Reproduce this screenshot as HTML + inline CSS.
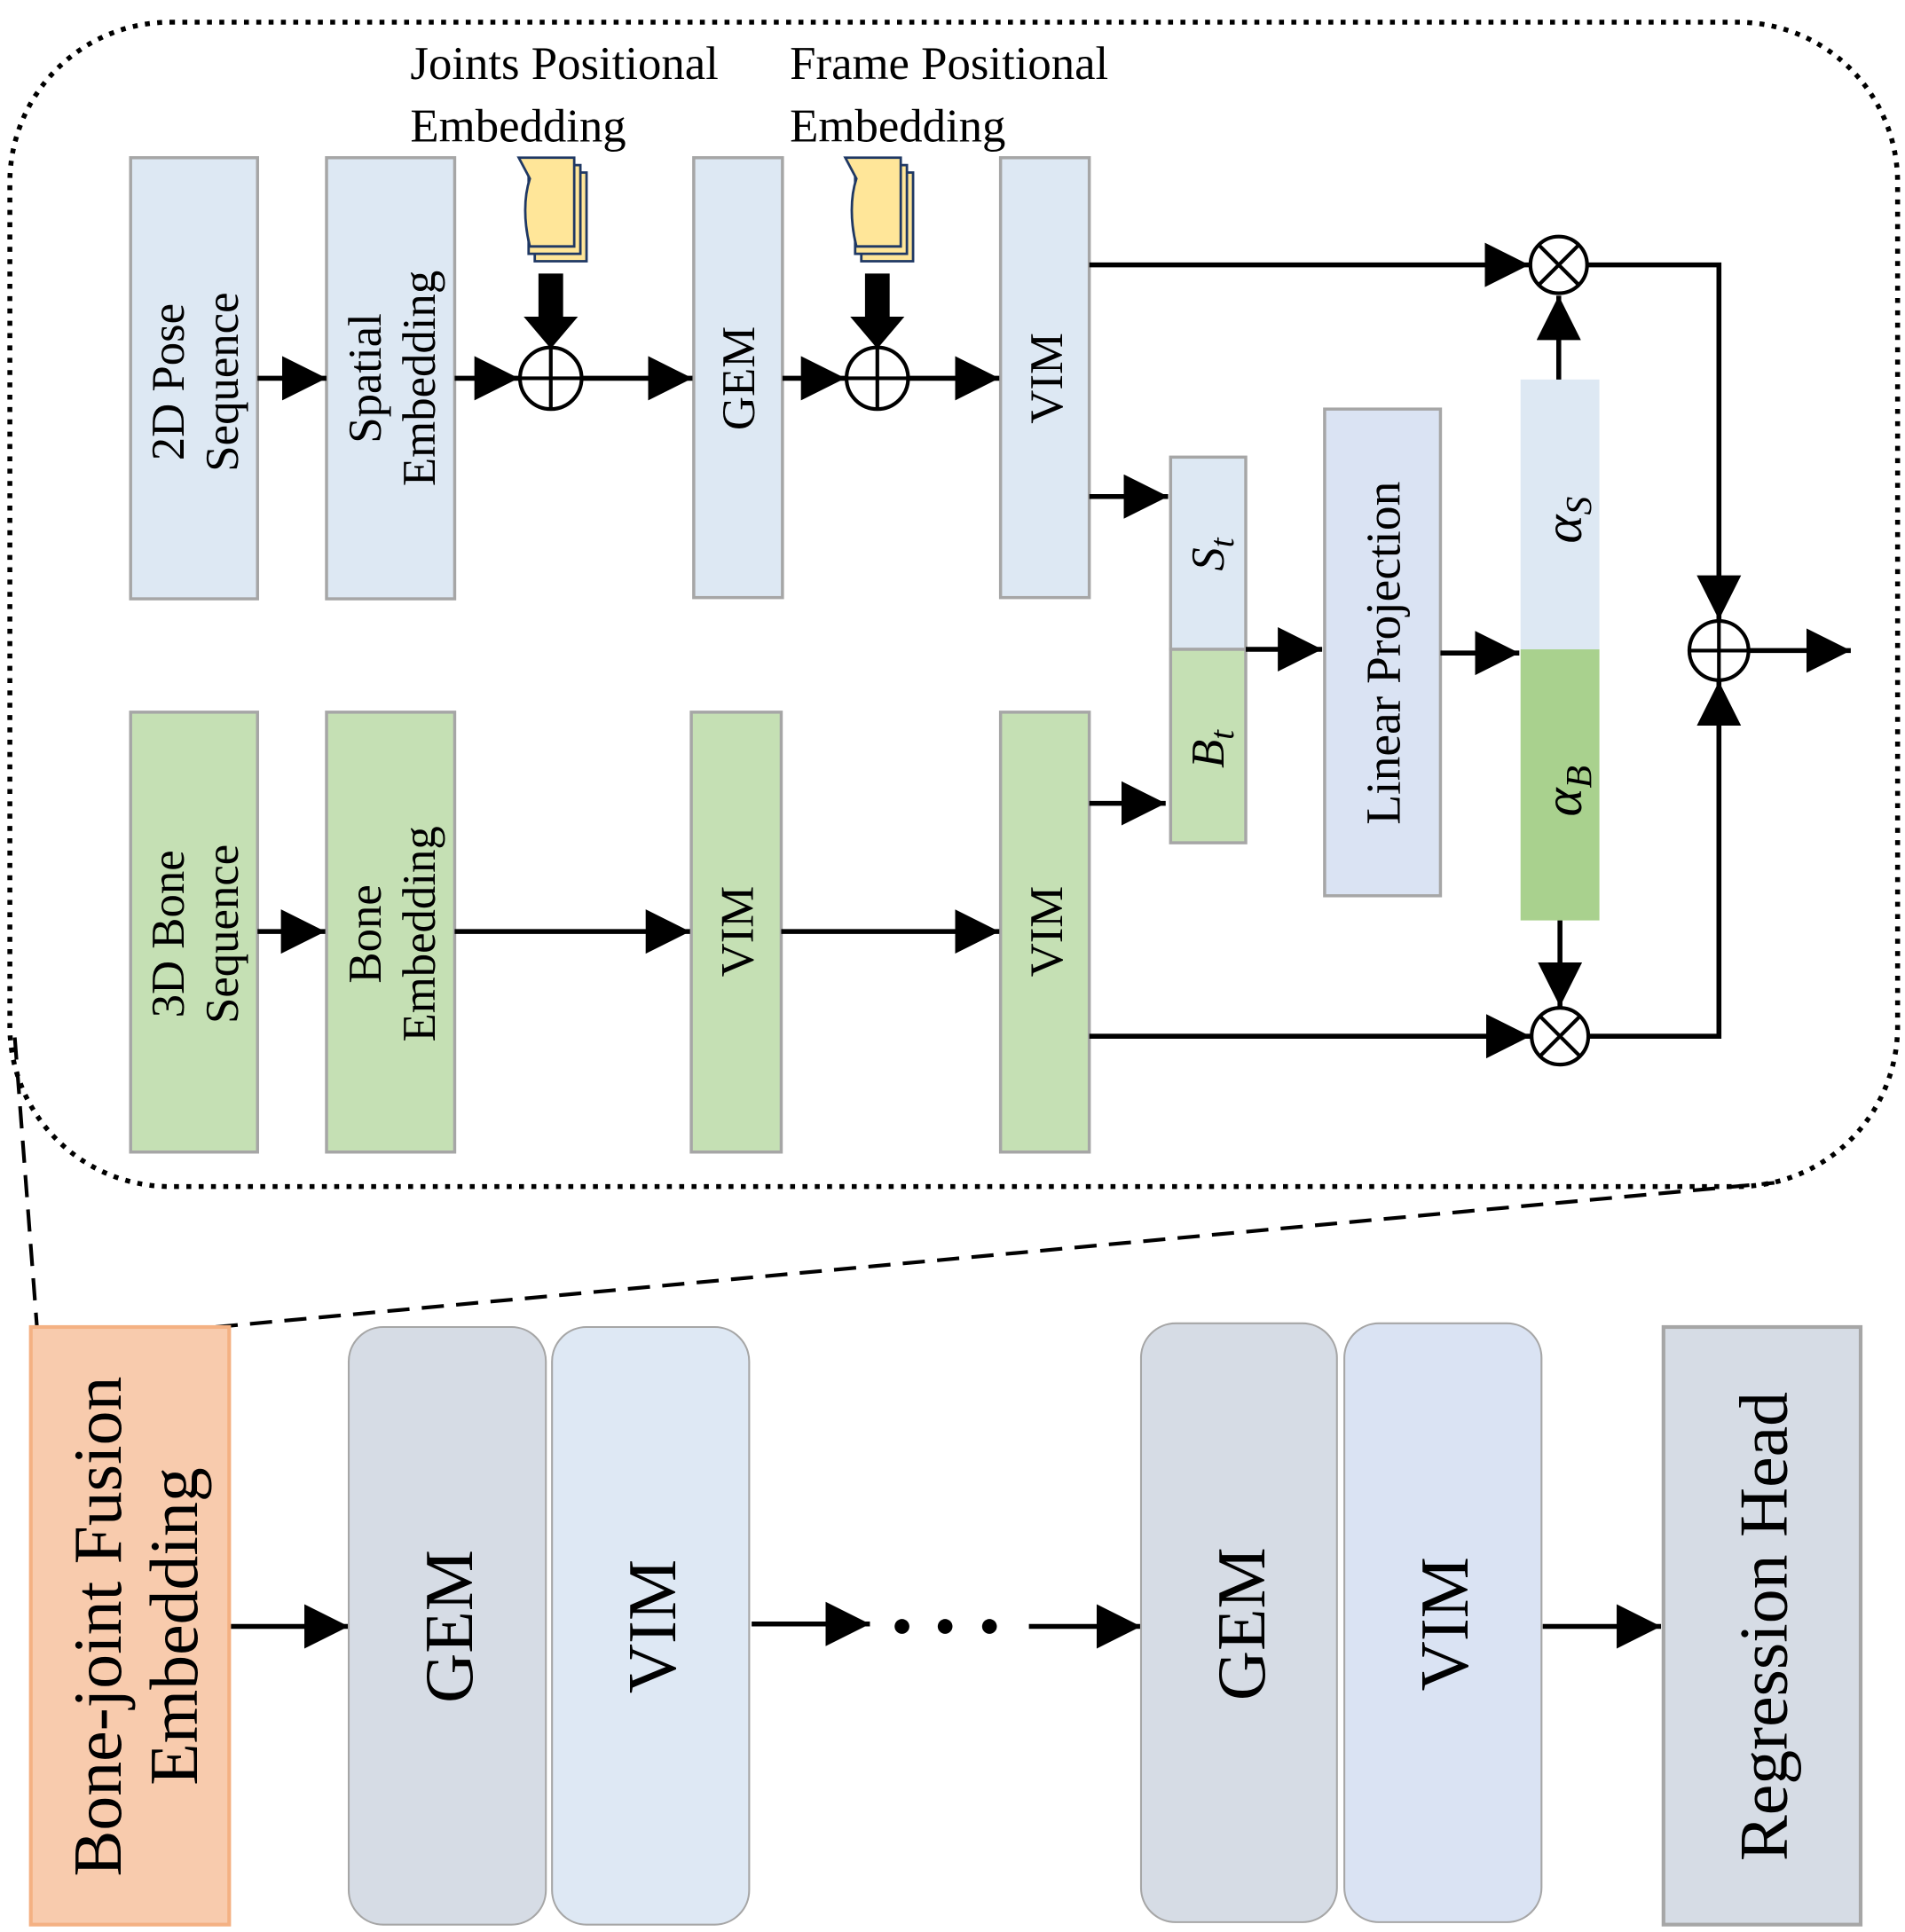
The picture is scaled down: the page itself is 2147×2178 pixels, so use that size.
<!DOCTYPE html>
<html><head><meta charset="utf-8"><style>
html,body{margin:0;padding:0;background:#fff}
svg{display:block}
text{font-family:"Liberation Serif",serif;fill:#000}
</style></head><body>
<svg width="2147" height="2178" viewBox="0 0 1546 1568" preserveAspectRatio="none" xmlns="http://www.w3.org/2000/svg">
<defs>
<marker id="a" markerUnits="userSpaceOnUse" markerWidth="40" markerHeight="40" refX="36" refY="18" orient="auto">
<path d="M0,0 L36,18 L0,36 Z" fill="#000"/></marker>
</defs>
<rect x="8" y="18" width="1532" height="945" rx="130" fill="none" stroke="#000" stroke-width="4" stroke-dasharray="4,6"/>

<g stroke="#a6a6a6" stroke-width="2.5">
<rect x="106" y="128" width="103" height="358" fill="#dde8f3"/>
<rect x="265" y="128" width="104" height="358" fill="#dde8f3"/>
<rect x="563" y="128" width="72" height="357" fill="#dde8f3"/>
<rect x="812" y="128" width="72" height="357" fill="#dde8f3"/>
<rect x="106" y="578" width="103" height="357" fill="#c5e0b4"/>
<rect x="265" y="578" width="104" height="357" fill="#c5e0b4"/>
<rect x="561" y="578" width="73" height="357" fill="#c5e0b4"/>
<rect x="812" y="578" width="72" height="357" fill="#c5e0b4"/>
<rect x="950" y="371" width="61" height="156" fill="#dde8f3"/>
<rect x="950" y="527" width="61" height="157" fill="#c5e0b4"/>
<rect x="1075" y="332" width="94" height="395" fill="#dae3f3"/>
</g>
<rect x="1234" y="308" width="64" height="219" fill="#dde8f3"/>
<rect x="1234" y="527" width="64" height="220" fill="#a9d18e"/>

<g stroke="#1f3864" stroke-width="2" fill="#ffe699">
<path d="M434,140 h42 v72 h-42 z"/>
<path d="M429,134 h42 v72 h-42 z"/>
<path d="M421,128 h45 v72 h-36 c-5,-20 -5,-40 0,-55 z"/>
<path d="M699,140 h42 v72 h-42 z"/>
<path d="M694,134 h42 v72 h-42 z"/>
<path d="M686,128 h45 v72 h-36 c-5,-20 -5,-40 0,-55 z"/>
</g>
<path d="M437,222 h20 v35 h12 l-22,26 l-22,-26 h12 z" fill="#000"/>
<path d="M702,222 h20 v35 h12 l-22,26 l-22,-26 h12 z" fill="#000"/>

<g stroke="#000" stroke-width="3" fill="#fff">
<circle cx="447" cy="307" r="25"/><path d="M422,307h50M447,282v50"/>
<circle cx="712" cy="307" r="25"/><path d="M687,307h50M712,282v50"/>
<circle cx="1395" cy="528" r="24"/><path d="M1371,528h48M1395,504v48"/>
<circle cx="1265" cy="215" r="23"/><path d="M1249,199l32,32M1281,199l-32,32"/>
<circle cx="1266" cy="841" r="23"/><path d="M1250,825l32,32M1282,825l-32,32"/>
</g>

<g stroke="#000" stroke-width="4" fill="none" marker-end="url(#a)">
<path d="M209,307H265"/>
<path d="M369,307H421"/>
<path d="M472,307H562"/>
<path d="M635,307H686"/>
<path d="M737,307H811"/>
<path d="M884,215H1241"/>
<path d="M884,403H948"/>
<path d="M1011,527H1073"/>
<path d="M1169,530H1233"/>
<path d="M1265,308V240"/>
<path d="M1266,747V817"/>
<path d="M1288,215H1395V503"/>
<path d="M1289,841H1395V553"/>
<path d="M1420,528H1502"/>
<path d="M209,756H264"/>
<path d="M369,756H560"/>
<path d="M634,756H811"/>
<path d="M884,652H946"/>
<path d="M884,841H1242"/>
<path d="M186,1320H283"/>
<path d="M610,1318H706"/>
<path d="M835,1320H926"/>
<path d="M1252,1320H1348"/>
</g>
<g fill="#000"><circle cx="732" cy="1320" r="6"/><circle cx="767" cy="1320" r="6"/><circle cx="803" cy="1320" r="6"/></g>

<g stroke="#000" stroke-width="3" stroke-dasharray="18,10" fill="none">
<path d="M12,842L30,1077"/><path d="M175,1077L1440,960"/>
</g>

<rect x="25" y="1077" width="161" height="485" fill="#f8cbad" stroke="#f4b183" stroke-width="3"/>
<rect x="283" y="1077" width="160" height="485" rx="28" fill="#d6dce5" stroke="#a6a6a6" stroke-width="1.5"/>
<rect x="448" y="1077" width="160" height="485" rx="28" fill="#dee8f4" stroke="#a6a6a6" stroke-width="1.5"/>
<rect x="926" y="1074" width="159" height="486" rx="28" fill="#d6dce5" stroke="#a6a6a6" stroke-width="1.5"/>
<rect x="1091" y="1074" width="160" height="486" rx="28" fill="#dae3f3" stroke="#a6a6a6" stroke-width="1.5"/>
<rect x="1350" y="1077" width="160" height="485" fill="#d6dce5" stroke="#a6a6a6" stroke-width="3"/>

<text x="333" y="64" font-size="38">Joints Positional</text>
<text x="333" y="115" font-size="38">Embedding</text>
<text x="641" y="64" font-size="38">Frame Positional</text>
<text x="641" y="115" font-size="38">Embedding</text>

<g font-size="38" text-anchor="middle">
<text transform="translate(157,310) rotate(-90)"><tspan x="0" y="-8">2D Pose</tspan><tspan x="0" y="36">Sequence</tspan></text>
<text transform="translate(317,307) rotate(-90)"><tspan x="0" y="-8">Spatial</tspan><tspan x="0" y="36">Embedding</tspan></text>
<text transform="translate(612,307) rotate(-90)">GEM</text>
<text transform="translate(862,307) rotate(-90)">VIM</text>
<text transform="translate(157,758) rotate(-90)"><tspan x="0" y="-8">3D Bone</tspan><tspan x="0" y="36">Sequence</tspan></text>
<text transform="translate(317,758) rotate(-90)"><tspan x="0" y="-8">Bone</tspan><tspan x="0" y="36">Embedding</tspan></text>
<text transform="translate(611,756) rotate(-90)">VIM</text>
<text transform="translate(862,756) rotate(-90)">VIM</text>
<text transform="translate(1136,530) rotate(-90)" font-size="40">Linear Projection</text>
<text transform="translate(993,450) rotate(-90)" font-style="italic">S<tspan font-size="28" dy="8">t</tspan></text>
<text transform="translate(993,608) rotate(-90)" font-style="italic">B<tspan font-size="28" dy="8">t</tspan></text>
<text transform="translate(1283,422) rotate(-90)" font-style="italic" font-size="44">α<tspan font-size="30" dy="8">S</tspan></text>
<text transform="translate(1283,642) rotate(-90)" font-style="italic" font-size="44">α<tspan font-size="30" dy="8">B</tspan></text>
</g>
<g font-size="56" text-anchor="middle">
<text transform="translate(110,1320) rotate(-90)"><tspan x="0" y="-12">Bone-joint Fusion</tspan><tspan x="0" y="50">Embedding</tspan></text>
<text transform="translate(383,1320) rotate(-90)">GEM</text>
<text transform="translate(548,1320) rotate(-90)">VIM</text>
<text transform="translate(1026,1318) rotate(-90)">GEM</text>
<text transform="translate(1191,1318) rotate(-90)">VIM</text>
<text transform="translate(1450,1320) rotate(-90)">Regression Head</text>
</g>
</svg>
</body></html>
